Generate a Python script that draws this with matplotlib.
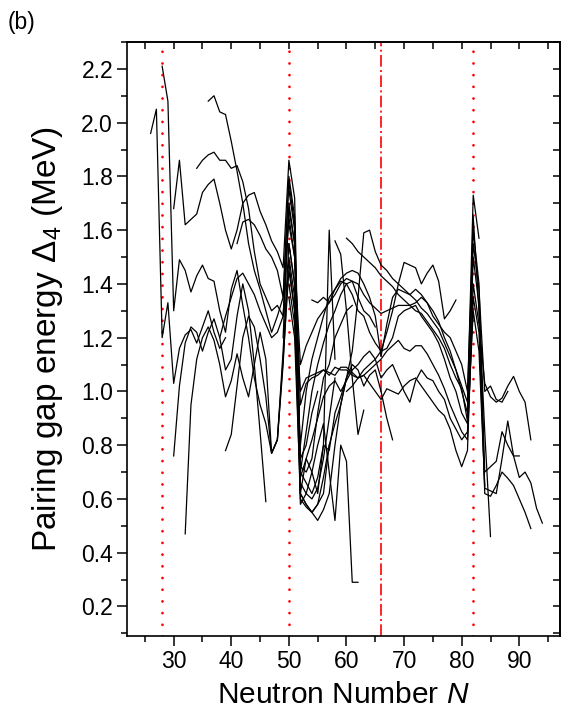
import numpy as np
import matplotlib
matplotlib.use("Agg")
import matplotlib.pyplot as plt

plt.rcParams['font.family'] = ['Liberation Sans', 'DejaVu Sans']
plt.rcParams['mathtext.fontset'] = 'custom'
plt.rcParams['mathtext.rm'] = 'Liberation Sans'
plt.rcParams['mathtext.it'] = 'Liberation Sans:italic'

# ---- data: isotopic chains (first neutron number, gap values at N, N+1, ...) ----
start_L1 = 26
gap_L1 = [1.96, 2.05, 1.20, 1.33, 1.03, 1.16, 1.21, 1.23, 1.18, 1.24, 1.30, 1.22, 1.16, 1.20]
start_L2 = 28
gap_L2 = [2.21, 2.08, 1.30, 1.49, 1.45, 1.37, 1.43, 1.47, 1.42, 1.41, 1.30, 1.22, 1.38, 1.45,
          1.32, 1.20, 1.05, 0.95, 0.88, 0.77, 0.82, 1.10, 1.50, 1.35, 0.75, 0.80, 0.92, 1.00]
start_L3 = 30
gap_L3 = [0.76, 1.02, 1.18, 1.24, 1.22, 1.15, 1.22, 1.27, 1.20, 1.08, 1.12, 1.28, 1.40, 1.30,
          1.10, 0.85, 0.59]
start_L4 = 32
gap_L4 = [0.47, 0.95, 1.12, 1.20, 1.24, 1.19, 1.10, 0.98, 1.04, 1.14, 1.05, 0.98, 1.10, 1.22,
          1.12, 0.77, 0.82, 1.15, 1.55, 1.40, 0.62, 0.58, 0.55, 0.58, 0.68, 0.80]
start_L5 = 30
gap_L5 = [1.68, 1.86, 1.62, 1.64, 1.66, 1.74, 1.77, 1.79, 1.70, 1.60, 1.53, 1.60, 1.70, 1.73,
          1.74, 1.67, 1.62, 1.56, 1.52, 1.46, 1.86, 1.72, 0.70, 0.85, 1.00, 1.10, 1.18, 1.25,
          1.30, 1.36, 1.40, 1.41, 1.35, 1.30, 1.28, 1.24]
start_L6 = 36
gap_L6 = [2.08, 2.10, 2.04, 2.03, 1.93, 1.82, 1.70, 1.55, 1.45, 1.38, 1.30, 1.22, 1.28, 1.35,
          1.78, 1.62, 0.66, 0.62, 0.60, 0.64, 0.75, 0.90, 1.05]
start_L7 = 34
gap_L7 = [1.83, 1.86, 1.88, 1.89, 1.86, 1.86, 1.83, 1.84, 1.78, 1.68, 1.52, 1.40, 1.35, 1.30,
          1.32, 1.28, 1.68, 1.55, 0.60, 0.57, 0.55, 0.52, 0.56, 0.62, 0.80, 0.95, 1.05]
start_L8 = 39
gap_L8 = [0.78, 0.84, 1.02, 1.20, 1.28, 1.24, 1.12, 0.98, 0.77, 0.82, 1.12, 1.45, 1.30, 0.58,
          0.62, 0.70, 0.80, 0.88, 0.70, 0.52, 0.80, 0.74, 0.29, 0.29]
start_L9 = 41
gap_L9 = [1.55, 1.63, 1.64, 1.62, 1.58, 1.53, 1.50, 1.45, 1.35, 1.80, 1.65, 0.68, 0.75, 0.70,
          0.62, 0.80, 1.60, 1.12]
start_L10 = 38
gap_L10 = [1.20, 1.28, 1.35, 1.42, 1.44, 1.40, 1.36, 1.30, 1.25, 1.20, 1.22, 1.28, 1.65, 1.50,
           0.72, 0.70, 0.75, 0.92, 1.05, 1.10, 1.20, 1.25, 1.30, 1.32]
start_D1 = 49
gap_D1 = [1.20,
          1.70, 1.55, 0.95, 1.03, 1.05, 1.06, 1.08, 1.06, 1.09, 1.08,
          1.08, 1.06, 1.05, 1.06, 1.03, 1.00, 0.97, 1.01, 1.00, 0.99,
          1.02, 1.04, 1.05, 1.02, 0.99, 0.96, 0.93, 0.91, 0.86, 0.78,
          0.72, 0.78, 1.40, 1.25, 1.03, 0.98, 0.96, 0.975, 1.02, 1.056,
          1.00, 0.96, 0.82]
start_D2 = 50
gap_D2 = [1.55, 1.40, 1.00, 1.05, 1.06, 1.07, 1.08, 1.07, 1.06, 1.09,
          1.09, 1.07, 1.05, 1.06, 1.08, 1.10, 1.12, 1.15, 1.17, 1.19,
          1.16, 1.15, 1.17, 1.17, 1.14, 1.10, 1.06, 1.01, 0.95, 0.90,
          0.85, 0.82, 1.35, 1.22, 0.64, 0.63, 0.62, 0.75, 0.89, 0.76,
          0.68, 0.70, 0.66, 0.565, 0.51]
start_D3 = 50
gap_D3 = [1.62, 1.50, 1.10, 1.17, 1.22, 1.27, 1.30, 1.33, 1.36, 1.40,
          1.42, 1.41, 1.40, 1.36, 1.33, 1.31, 1.29, 1.30, 1.31, 1.32,
          1.32, 1.32, 1.33, 1.35, 1.33, 1.28, 1.25, 1.22, 1.20, 1.15,
          1.10, 1.00, 1.60, 1.40, 0.70, 0.72, 0.74, 0.85, 0.80, 0.76,
          0.76]
start_D4 = 50
gap_D4 = [1.48, 1.30, 0.80, 1.00, 1.12, 1.20, 1.28, 1.35, 1.38, 1.41,
          1.40, 1.36, 1.30, 1.28, 1.22, 1.18, 1.15, 1.16, 1.20, 1.28,
          1.30, 1.31, 1.32, 1.28, 1.25, 1.22, 1.18, 1.12, 1.05, 1.00,
          0.92, 0.88, 1.50, 1.32, 0.62, 0.61, 0.65, 0.70, 0.677, 0.65,
          0.60, 0.55, 0.49]
start_D5 = 60
gap_D5 = [1.57, 1.55, 1.52, 1.50, 1.48, 1.46, 1.43, 1.41, 1.39, 1.36,
          1.34, 1.32, 1.30, 1.29, 1.26, 1.23, 1.20, 1.16, 1.10, 1.05,
          1.01, 0.89, 1.65, 1.30, 0.85, 0.46]
start_D6 = 50
gap_D6 = [1.75, 1.60, 0.62, 0.58, 0.55, 0.58, 0.62, 0.80, 0.88, 0.95,
          1.05, 1.15, 1.35, 1.59, 1.60, 1.52, 1.47, 1.45, 1.42, 1.40,
          1.38, 1.36, 1.34, 1.31, 1.29, 1.26, 1.23, 1.18, 1.13, 1.08,
          1.02, 0.96, 1.73, 1.57]
start_D7 = 60
gap_D7 = [1.00, 1.02, 1.05, 1.08, 1.10, 1.12, 1.15, 1.22, 1.30, 1.40,
          1.48, 1.47, 1.46, 1.40, 1.44, 1.47, 1.41, 1.27, 1.30, 1.34]
start_D8 = 54
gap_D8 = [1.34, 1.33, 1.35, 1.33, 1.38, 1.42,
          1.44, 1.45, 1.44, 1.40, 1.35, 1.28, 1.13, 1.25, 1.35, 1.38,
          1.37, 1.36, 1.38, 1.36, 1.33, 1.30, 1.26, 1.20, 1.15, 1.08,
          1.00, 0.92, 1.55, 1.38, 1.00, 1.02, 0.97, 0.96, 1.00]
start_D9 = 58
gap_D9 = [1.56, 1.51, 1.30, 1.05, 0.84, 0.93]
start_D10 = 50
gap_D10 = [1.40, 1.25, 0.70, 0.66, 0.62, 0.68, 0.80, 0.78, 0.92, 0.98,
           1.05, 1.10, 1.08, 1.02, 1.06, 1.08, 1.00, 0.90, 0.82]
start_D12 = 50
gap_D12 = [1.35, 1.20, 0.62, 0.75, 0.82, 0.90, 0.98, 1.02, 1.04, 1.00,
           1.04, 1.08, 1.10, 1.13, 1.15, 1.12, 1.05, 1.08, 1.10, 1.05,
           1.00, 0.96, 1.04, 1.08, 1.05, 1.04, 1.00, 0.97, 0.90, 0.86,
           0.82, 0.85, 1.30, 1.15, 0.65]

chains = [
    (start_L1, gap_L1), (start_L2, gap_L2), (start_L3, gap_L3), (start_L4, gap_L4),
    (start_L5, gap_L5), (start_L6, gap_L6), (start_L7, gap_L7), (start_L8, gap_L8),
    (start_L9, gap_L9), (start_L10, gap_L10),
    (start_D1, gap_D1), (start_D2, gap_D2), (start_D3, gap_D3), (start_D4, gap_D4),
    (start_D5, gap_D5), (start_D6, gap_D6), (start_D7, gap_D7), (start_D8, gap_D8),
    (start_D9, gap_D9), (start_D10, gap_D10), (start_D12, gap_D12),
]

magic_dotted = [28, 50, 82]
subshell_dashdot = [66]

x_major = [30, 40, 50, 60, 70, 80, 90]
y_major = [0.2, 0.4, 0.6, 0.8, 1.0, 1.2, 1.4, 1.6, 1.8, 2.0, 2.2]

# ---- figure ----
fig = plt.figure(figsize=(5.67, 7.19), dpi=100)
ax = fig.add_axes([0.224, 0.1154, 0.763, 0.8262])

for n0, vals in chains:
    n = np.arange(n0, n0 + len(vals))
    ax.plot(n, vals, color='black', lw=0.9, zorder=3)

for xv in magic_dotted:
    ax.axvline(xv, color='red', lw=2.0, linestyle=(0, (0.01, 4.2)),
               dash_capstyle='round', zorder=2)
for xv in subshell_dashdot:
    ax.axvline(xv, color='red', lw=1.2, linestyle=(0, (7, 2, 1.2, 2)), zorder=2)

ax.set_xlim(21.9, 97.0)
ax.set_ylim(0.09, 2.3)

ax.set_xticks(x_major)
ax.set_xticks(np.arange(25, 96, 10), minor=True)
ax.set_yticks(y_major)
ax.set_yticklabels([f"{v:.1f}" for v in y_major])
ax.set_yticks(np.arange(0.1, 2.31, 0.2), minor=True)

ax.tick_params(axis='both', which='major', direction='out', length=7, width=1.1,
               labelsize=16.5, pad=3)
ax.tick_params(axis='both', which='minor', direction='out', length=4, width=1.1)

for s in ax.spines.values():
    s.set_linewidth(1.2)

top = ax.secondary_xaxis('top')
top.set_xticks(np.arange(25, 96, 5))
top.tick_params(direction='in', length=5, width=1.1, labeltop=False)
top.spines['top'].set_linewidth(1.2)
right = ax.secondary_yaxis('right')
right.set_yticks(np.arange(0.1, 2.31, 0.1))
right.tick_params(direction='in', length=5, width=1.1, labelright=False)
right.spines['right'].set_linewidth(1.2)

ax.set_xlabel('Neutron Number $N$', fontsize=21.5, labelpad=6)
ax.set_ylabel('Pairing gap energy Δ$_{4}$ (MeV)', fontsize=24, labelpad=12)

fig.text(0.014, 0.985, '(b)', fontsize=16.5, va='top', ha='left')

fig.savefig('out.png', dpi=100)
